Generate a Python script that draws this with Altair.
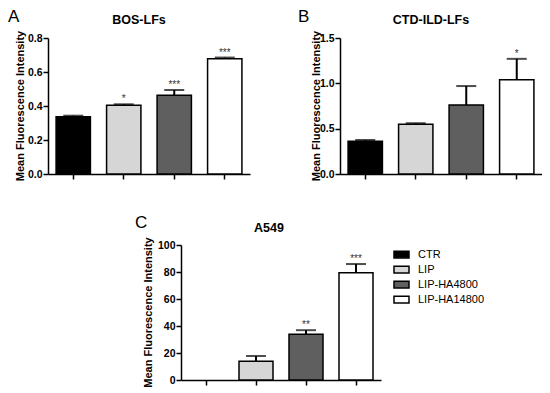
import altair as alt
import pandas as pd

FONT = "Liberation Sans"

groups = ["CTR", "LIP", "LIP-HA4800", "LIP-HA14800"]
colors = ["#000000", "#d6d6d6", "#5f5f5f", "#ffffff"]
ytitle = "Mean Fluorescence Intensity"

# Panel A: BOS-LFs
a_mean = [0.337, 0.404, 0.463, 0.678]
a_err = [0.343, 0.410, 0.494, 0.685]
a_star = ["", "*", "***", "***"]

# Panel B: CTD-ILD-LFs
b_mean = [0.36, 0.55, 0.76, 1.04]
b_err = [0.375, 0.56, 0.97, 1.27]
b_star = ["", "", "", "*"]

# Panel C: A549
c_mean = [0.0, 13.8, 33.9, 79.5]
c_err = [0.0, 17.8, 36.9, 85.9]
c_star = ["", "", "**", "***"]


def panel(mean, err, star, title, letter, ymax, yvals, fmt, width, height,
          letter_xy, title_xy, ytitle_x, xshift=0, show_legend=False):
    df = pd.DataFrame({"group": groups, "mean": mean, "err": err, "star": star})
    base = alt.Chart(df)
    sc = dict(domain=groups, paddingInner=0.32, paddingOuter=0.16)
    if xshift:
        sc["range"] = [xshift, xshift + width]
    xscale = alt.Scale(**sc)
    xaxis = alt.Axis(labels=False, title=None, tickSize=5, tickWidth=1.5,
                     domainWidth=1.5, domainColor="black", tickColor="black")
    yscale = alt.Scale(domain=[0, ymax], nice=False, zero=True)
    ykw = {"offset": -xshift} if xshift else {}
    yaxis = alt.Axis(values=yvals, format=fmt, title=None,
                     labelFont=FONT, labelFontSize=10.5, labelFontWeight="bold",
                     labelColor="black", labelPadding=1, labelOverlap=False,
                     tickSize=5, tickWidth=1.5, tickColor="black",
                     domainWidth=1.5, domainColor="black", grid=False, **ykw)

    def X():
        return alt.X("group:N", sort=groups, scale=xscale, axis=xaxis)

    def Y(f):
        return alt.Y(f, scale=yscale, axis=yaxis)

    if show_legend:
        leg = alt.Legend(title=None, orient="none", legendX=212 + xshift, legendY=1,
                         symbolType="M-1,-0.45L1,-0.45L1,0.45L-1,0.45Z",
                         symbolSize=225, symbolStrokeColor="black", symbolStrokeWidth=1.5,
                         symbolOpacity=1, labelFont=FONT, labelFontSize=11,
                         labelColor="black", labelOffset=8, rowPadding=0, padding=0)
    else:
        leg = None
    fill = alt.Fill("group:N", sort=groups, scale=alt.Scale(domain=groups, range=colors),
                    legend=leg)
    bars = base.mark_bar(stroke="black", strokeWidth=1.5).encode(
        x=X(), y=Y("mean:Q"), fill=fill).transform_filter("datum.mean > 0")
    rule = base.mark_rule(color="black", strokeWidth=2).encode(
        x=X(), y=Y("mean:Q"), y2="err:Q").transform_filter("datum.err > datum.mean")
    cap = base.mark_tick(color="black", thickness=2, size=20).encode(
        x=X(), y=Y("err:Q")).transform_filter("datum.err > datum.mean")
    stars = base.mark_text(font=FONT, fontSize=10, color="#333333", baseline="alphabetic",
                           dy=-2).encode(x=X(), y=Y("err:Q"), text="star:N")
    lab = alt.Chart(pd.DataFrame({"t": [letter]})).mark_text(
        font=FONT, fontSize=17, color="black", align="left", baseline="alphabetic").encode(
        x=alt.value(letter_xy[0] + xshift), y=alt.value(letter_xy[1]), text="t:N")
    ttl = alt.Chart(pd.DataFrame({"t": [title]})).mark_text(
        font=FONT, fontSize=12.5, fontWeight="bold", color="black", align="center",
        baseline="alphabetic").encode(
        x=alt.value(title_xy[0] + xshift), y=alt.value(title_xy[1]), text="t:N")
    yt = alt.Chart(pd.DataFrame({"t": [ytitle]})).mark_text(
        font=FONT, fontSize=11, fontWeight="bold", color="black", align="center",
        baseline="middle", angle=270).encode(
        x=alt.value(ytitle_x + xshift), y=alt.value(height / 2), text="t:N")
    return alt.layer(bars, rule, cap, stars, lab, ttl, yt).properties(
        width=width, height=height)


A = panel(a_mean, a_err, a_star, "BOS-LFs", "A", 0.8, [0, 0.2, 0.4, 0.6, 0.8], ".1f",
          202, 136, (-40, -16), (91, -14), -27)
B = panel(b_mean, b_err, b_star, "CTD-ILD-LFs", "B", 1.5, [0, 0.5, 1.0, 1.5], ".1f",
          202, 136, (-42, -16), (91, -14), -23)
C = panel(c_mean, c_err, c_star, "A549", "C", 100, [0, 20, 40, 60, 80, 100], "d",
          200, 135, (-46, -17), (88, -13), -32, xshift=133, show_legend=True)

chart = alt.concat(A, B, C, columns=2, spacing={"row": 71, "column": 90},
                   bounds="flush").resolve_scale(
    fill="independent").configure_view(stroke=None).properties(
    padding={"left": 0, "top": 0, "right": 0, "bottom": 0}, background="white")

chart.save("out.html", embed_options={"renderer": "svg", "actions": False})
